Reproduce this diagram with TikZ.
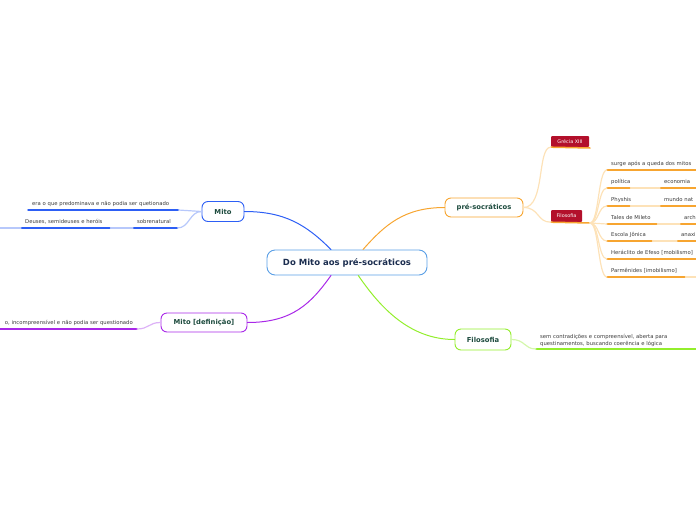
\documentclass[tikz,border=0pt]{standalone}
\usepackage{fontspec}
\setmainfont{DejaVu Sans}
\definecolor{rootline}{HTML}{5A9FE6}
\definecolor{roottext}{HTML}{1B2D4F}
\definecolor{topictext}{HTML}{1D4B3E}
\definecolor{leaftext}{HTML}{3A3A3A}
\definecolor{mitoblue}{HTML}{2D5FF5}
\definecolor{mitolight}{HTML}{B7C8FB}
\definecolor{defpurple}{HTML}{A928E8}
\definecolor{deflight}{HTML}{DDB2F7}
\definecolor{preorange}{HTML}{F7A530}
\definecolor{prelight}{HTML}{FDE2B8}
\definecolor{filgreen}{HTML}{93EE2C}
\definecolor{fillight}{HTML}{D4F7AC}
\definecolor{grecred}{HTML}{B3102B}

\begin{document}
\begin{tikzpicture}[line cap=round,line join=round,x=1pt,y=-1pt,
  topic/.style={draw,fill=white,rounded corners=6pt,line width=0.9pt,inner sep=0pt,
    font=\fontsize{6.8}{8}\selectfont\bfseries,text=topictext},
  redbox/.style={fill=grecred,text=white,rounded corners=1pt,inner sep=0pt,
    font=\fontsize{4.9}{5}\selectfont},
  leaf/.style={anchor=south west,inner xsep=4pt,inner ysep=3.2pt,text width=#1,align=left,
    text height=4pt,text depth=1pt,font=\fontsize{5.3}{7}\selectfont,text=leaftext},
  bline/.style={draw=mitoblue,line width=1.5pt},
  bbridge/.style={draw=mitolight,line width=1.2pt},
  pline/.style={draw=defpurple,line width=1.5pt},
  pbridge/.style={draw=deflight,line width=1.2pt},
  oline/.style={draw=preorange,line width=1.5pt},
  obridge/.style={draw=prelight,line width=1.2pt},
  gline/.style={draw=filgreen,line width=1.5pt},
  gbridge/.style={draw=fillight,line width=1.2pt}]
\clip (0,0) rectangle (696,520);

% main topics
\node[draw=rootline,fill=white,rounded corners=8pt,line width=0.9pt,minimum width=160pt,minimum height=25pt,
  inner sep=0pt,font=\fontsize{8.5}{10}\selectfont\bfseries,text=roottext] (root) at (347,262.5) {Do Mito aos pré-socráticos};
\node[topic,draw=mitoblue,minimum width=42pt,minimum height=20pt] (mito) at (223,211.5) {Mito};
\node[topic,draw=defpurple,minimum width=86pt,minimum height=19pt] (mitodef) at (204,322.5) {Mito [definição]};
\node[topic,draw=preorange,minimum width=78pt,minimum height=19pt] (preso) at (484,207.5) {pré-socráticos};
\node[topic,draw=filgreen,minimum width=56pt,minimum height=21pt] (filo) at (483,339.5) {Filosofia};

\draw[mitoblue,line width=1pt] (root.141) .. controls +(-25,-25) and +(40,0) .. (mito.east);
\draw[defpurple,line width=1pt] (root.219) .. controls +(-20,28) and +(45,0) .. (mitodef.east);
\draw[preorange,line width=1pt] (root.39) .. controls +(22,-25) and +(-40,0) .. (preso.west);
\draw[filgreen,line width=1pt] (root.311) .. controls +(22,32) and +(-45,0) .. (filo.west);

% Mito
\node[leaf=142pt] (era) at (28,210) {era o que predominava e não podia ser quetionado};
\node[leaf=81pt] (deus) at (21,228) {Deuses, semideuses e heróis};
\node[leaf=36pt] (sobre) at (133,228) {sobrenatural};
\coordinate (deusW) at (-5,228);
\draw[bline] (era.south west) -- (era.south east);
\draw[bline] (deus.south west) -- (deus.south east);
\draw[bline] (sobre.south west) -- (sobre.south east);
\draw[bbridge] (deusW) -- (deus.south west);
\draw[bbridge] (deus.south east) -- (sobre.south west);
\draw[bbridge] (mito.west) .. controls +(-12,0) and +(12,0) .. (era.south east);
\draw[bbridge] (mito.west) .. controls +(-12,0) and +(12,0) .. (sobre.south east);

% Mito [definicao]
\node[leaf=150pt,anchor=south east,align=right] (def) at (137,329) {o, incompreensível e não podia ser questionado};
\draw[pline] (def.south west) -- (def.south east);
\draw[pbridge] (mitodef.west) .. controls +(-12,0) and +(12,0) .. (def.south east);

% pre-socraticos
\node[redbox,minimum width=38pt,minimum height=11pt] (gre) at (570,141.5) {Grécia XIII};
\node[redbox,minimum width=31pt,minimum height=12pt] (filred) at (566.5,216) {Filosofia};
\coordinate (greE) at (590,148);
\coordinate (filE) at (590,223);
\draw[oline] (gre.south west) -- (greE);
\draw[oline] (filred.south west) -- (filE);
\draw[obridge] (preso.east) .. controls +(22,0) and +(-14,0) .. (gre.south west);
\draw[obridge] (preso.east) .. controls +(16,0) and +(-14,0) .. (filred.south west);

\node[leaf=112pt] (surge) at (607,170) {surge após a queda dos mitos};
\node[leaf=15pt] (pol) at (607,188) {política};
\node[leaf=60pt] (econ) at (660,188) {economia};
\node[leaf=15pt] (phys) at (607,206) {Physhis};
\node[leaf=60pt] (mundo) at (660,206) {mundo nat};
\node[leaf=42pt] (tales) at (607,224) {Tales de Mileto};
\node[leaf=40pt] (arch) at (680,224) {arch};
\node[leaf=37pt] (escola) at (607,241) {Escola Jônica};
\node[leaf=40pt] (anaxi) at (677,241) {anaxi};
\node[leaf=112pt] (hera) at (607,259) {Heráclito de Efeso [mobilismo]};
\node[leaf=70pt] (parm) at (607,277) {Parmênides [imobilismo]};
\coordinate (parmE) at (702,277);

\draw[oline] (surge.south west) -- (surge.south east);
\draw[oline] (pol.south west) -- (pol.south east);
\draw[oline] (econ.south west) -- (econ.south east);
\draw[oline] (phys.south west) -- (phys.south east);
\draw[oline] (mundo.south west) -- (mundo.south east);
\draw[oline] (tales.south west) -- (tales.south east);
\draw[oline] (arch.south west) -- (arch.south east);
\draw[oline] (escola.south west) -- (escola.south east);
\draw[oline] (anaxi.south west) -- (anaxi.south east);
\draw[oline] (hera.south west) -- (hera.south east);
\draw[oline] (parm.south west) -- (parm.south east);
\draw[obridge] (pol.south east) -- (econ.south west);
\draw[obridge] (phys.south east) -- (mundo.south west);
\draw[obridge] (tales.south east) -- (arch.south west);
\draw[obridge] (escola.south east) -- (anaxi.south west);
\draw[obridge] (parm.south east) -- (parmE);

\draw[obridge] (filE) .. controls +(9,0) and +(-9,0) .. (surge.south west);
\draw[obridge] (filE) .. controls +(9,0) and +(-9,0) .. (pol.south west);
\draw[obridge] (filE) .. controls +(9,0) and +(-9,0) .. (phys.south west);
\draw[obridge] (filE) .. controls +(9,0) and +(-9,0) .. (tales.south west);
\draw[obridge] (filE) .. controls +(9,0) and +(-9,0) .. (escola.south west);
\draw[obridge] (filE) .. controls +(9,0) and +(-9,0) .. (hera.south west);
\draw[obridge] (filE) .. controls +(9,0) and +(-9,0) .. (parm.south west);

% Filosofia
\node[leaf=170pt,text depth=8pt,inner ysep=2.5pt] (filotxt) at (536,349) {sem contradições e compreensível, aberta para\\questinamentos, buscando coerência e lógica};
\coordinate (filotxtE) at (700,349);
\draw[gline] (filotxt.south west) -- (filotxtE);
\draw[gbridge] (filo.east) .. controls +(14,0) and +(-12,0) .. (filotxt.south west);
\end{tikzpicture}
\end{document}
